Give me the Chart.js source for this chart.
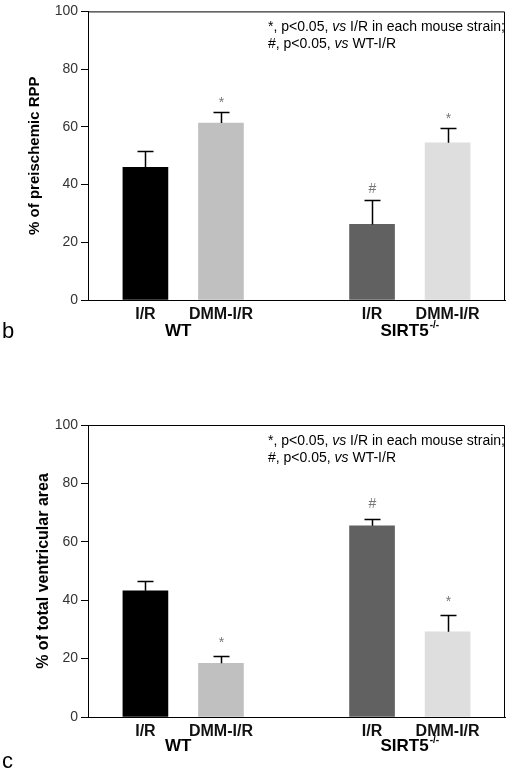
<!DOCTYPE html>
<html>
<head>
<meta charset="utf-8">
<script src="https://cdn.jsdelivr.net/npm/chart.js@4"></script>
<style>
  body { margin: 0; background: #fff; }
  canvas { position: absolute; left: 0; }
  #graphRpp { top: 0; }
  #graphArea { top: 380px; }
</style>
</head>
<body>
<canvas id="graphRpp" width="507" height="345"></canvas>
<canvas id="graphArea" width="507" height="399"></canvas>
<script>
// Données
const conditions = ['I/R', 'DMM-I/R', 'I/R', 'DMM-I/R'];
const slots = [1, 2, 4, 5];
const strains = ['WT', 'SIRT5'];
const strainSup = ['', '-/-'];
const strainSlots = [1.5, 4.5];
const yTicks = [0, 20, 40, 60, 80, 100];

const rppValues = [46.0, 61.3, 26.2, 54.5];
const rppErrors = [5.8, 3.9, 8.6, 5.2];
const rppMarks = ['', '*', '#', '*'];

const areaValues = [43.2, 18.4, 65.5, 29.2];
const areaErrors = [3.4, 2.4, 2.3, 5.7];
const areaMarks = ['', '*', '#', '*'];

const noteLines = [
  ['*, p<0.05, ', 'vs', ' I/R in each mouse strain;'],
  ['#, p<0.05, ', 'vs', ' WT-I/R']
];

const barColors = ['#000000', '#c0c0c0', '#616161', '#dedede'];
const FONT = "'Liberation Sans', Arial, sans-serif";

// Barres d'erreur, marques, cadre, annotations
const decorPlugin = {
  id: 'decor',
  afterDraw(chart, args, opts) {
    const ctx = chart.ctx;
    const x = chart.scales.x, y = chart.scales.y;
    const area = chart.chartArea;
    ctx.save();
    ctx.strokeStyle = '#000';
    ctx.lineWidth = 1;
    ctx.beginPath();
    ctx.moveTo(area.left, area.top + 0.5);
    ctx.lineTo(area.right - 0.5, area.top + 0.5);
    ctx.lineTo(area.right - 0.5, area.bottom);
    ctx.stroke();

    ctx.lineWidth = 1.5;
    opts.values.forEach((v, i) => {
      const px = Math.round(x.getPixelForValue(slots[i])) + 0.5;
      const yBar = y.getPixelForValue(v);
      const yErr = Math.round(y.getPixelForValue(v + opts.errors[i])) + 0.5;
      ctx.beginPath();
      ctx.moveTo(px, yBar);
      ctx.lineTo(px, yErr);
      ctx.moveTo(px - 8, yErr);
      ctx.lineTo(px + 8, yErr);
      ctx.stroke();
      const m = opts.marks[i];
      if (m) {
        ctx.fillStyle = '#777';
        ctx.font = '14px ' + FONT;
        ctx.textAlign = 'center';
        ctx.textBaseline = 'alphabetic';
        const lift = m === '#' ? 5 : 7.5;
        ctx.fillText(m, px, yErr - opts.markGap + lift);
      }
    });

    // noms des souches
    ctx.fillStyle = '#000';
    ctx.textBaseline = 'alphabetic';
    strains.forEach((s, i) => {
      const cx = x.getPixelForValue(strainSlots[i]);
      ctx.font = 'bold 17px ' + FONT;
      const w1 = ctx.measureText(s).width;
      ctx.font = 'bold 10px ' + FONT;
      const w2 = strainSup[i] ? ctx.measureText(strainSup[i]).width + 1 : 0;
      const left = cx - (w1 + w2) / 2 - (strainSup[i] ? 0 : 5);
      const base = area.bottom + opts.strainGap;
      ctx.textAlign = 'left';
      ctx.font = 'bold 17px ' + FONT;
      ctx.fillText(s, left, base);
      if (strainSup[i]) {
        ctx.font = 'bold 10px ' + FONT;
        ctx.fillText(strainSup[i], left + w1 + 1, base - 8);
      }
    });

    // note en haut à droite
    ctx.textAlign = 'left';
    noteLines.forEach((parts, li) => {
      let nx = 268;
      const ny = area.top + 19.5 + li * 17;
      parts.forEach((p, pi) => {
        ctx.font = (pi === 1 ? 'italic ' : '') + '14px ' + FONT;
        ctx.fillText(p, nx, ny);
        nx += ctx.measureText(p).width;
      });
    });

    // lettre du panneau
    ctx.font = '22px ' + FONT;
    ctx.fillText(opts.letter, 2, opts.letterY);
    ctx.restore();
  }
};

function buildChart(canvasId, values, errors, marks, yTitle, cfg) {
  return new Chart(document.getElementById(canvasId).getContext('2d'), {
    type: 'bar',
    data: {
      datasets: [{
        data: slots.map((s, i) => ({ x: s, y: values[i] })),
        backgroundColor: barColors,
        borderWidth: 0,
        barThickness: 45
      }]
    },
    options: {
      responsive: false,
      animation: false,
      devicePixelRatio: 1,
      layout: { padding: { top: cfg.top, right: 2, left: 0, bottom: 0 } },
      scales: {
        x: {
          type: 'linear',
          offset: false,
          min: 0.24,
          max: 5.76,
          afterBuildTicks: s => { s.ticks = slots.map(v => ({ value: v })); },
          afterFit: s => { s.height = cfg.xHeight; },
          ticks: {
            callback: (v, i) => conditions[i],
            font: { family: FONT, size: 16, weight: 'bold' },
            color: '#111',
            padding: 5,
            autoSkip: false,
            maxRotation: 0
          },
          grid: { display: false, drawTicks: false },
          border: { display: true, color: '#000', width: 1 }
        },
        y: {
          min: 0,
          max: 100,
          afterBuildTicks: s => { s.ticks = yTicks.map(v => ({ value: v })); },
          afterFit: s => { s.width = 88; },
          ticks: {
            font: { family: FONT, size: 14 },
            color: '#333',
            padding: 3
          },
          grid: { drawOnChartArea: false, drawTicks: true, tickLength: 7, color: '#000' },
          border: { display: true, color: '#000', width: 1 },
          title: {
            display: true,
            text: yTitle,
            color: '#000',
            font: { family: FONT, size: cfg.titleSize, weight: 'bold' },
            padding: { top: cfg.titlePad, bottom: 0 }
          }
        }
      },
      plugins: {
        legend: { display: false },
        tooltip: { enabled: false },
        decor: {
          values: values,
          errors: errors,
          marks: marks,
          markGap: cfg.markGap,
          strainGap: cfg.strainGap,
          letter: cfg.letter,
          letterY: cfg.letterY
        }
      }
    },
    plugins: [decorPlugin]
  });
}

const chartRpp = buildChart('graphRpp', rppValues, rppErrors, rppMarks, '% of preischemic RPP',
  { top: 10, xHeight: 45, titleSize: 15, titlePad: 26, markGap: 13, strainGap: 36, letter: 'b', letterY: 338 });

const chartArea = buildChart('graphArea', areaValues, areaErrors, areaMarks, '% of total ventricular area',
  { top: 45, xHeight: 62, titleSize: 16, titlePad: 34, markGap: 17, strainGap: 34, letter: 'c', letterY: 388 });
</script>
</body>
</html>
